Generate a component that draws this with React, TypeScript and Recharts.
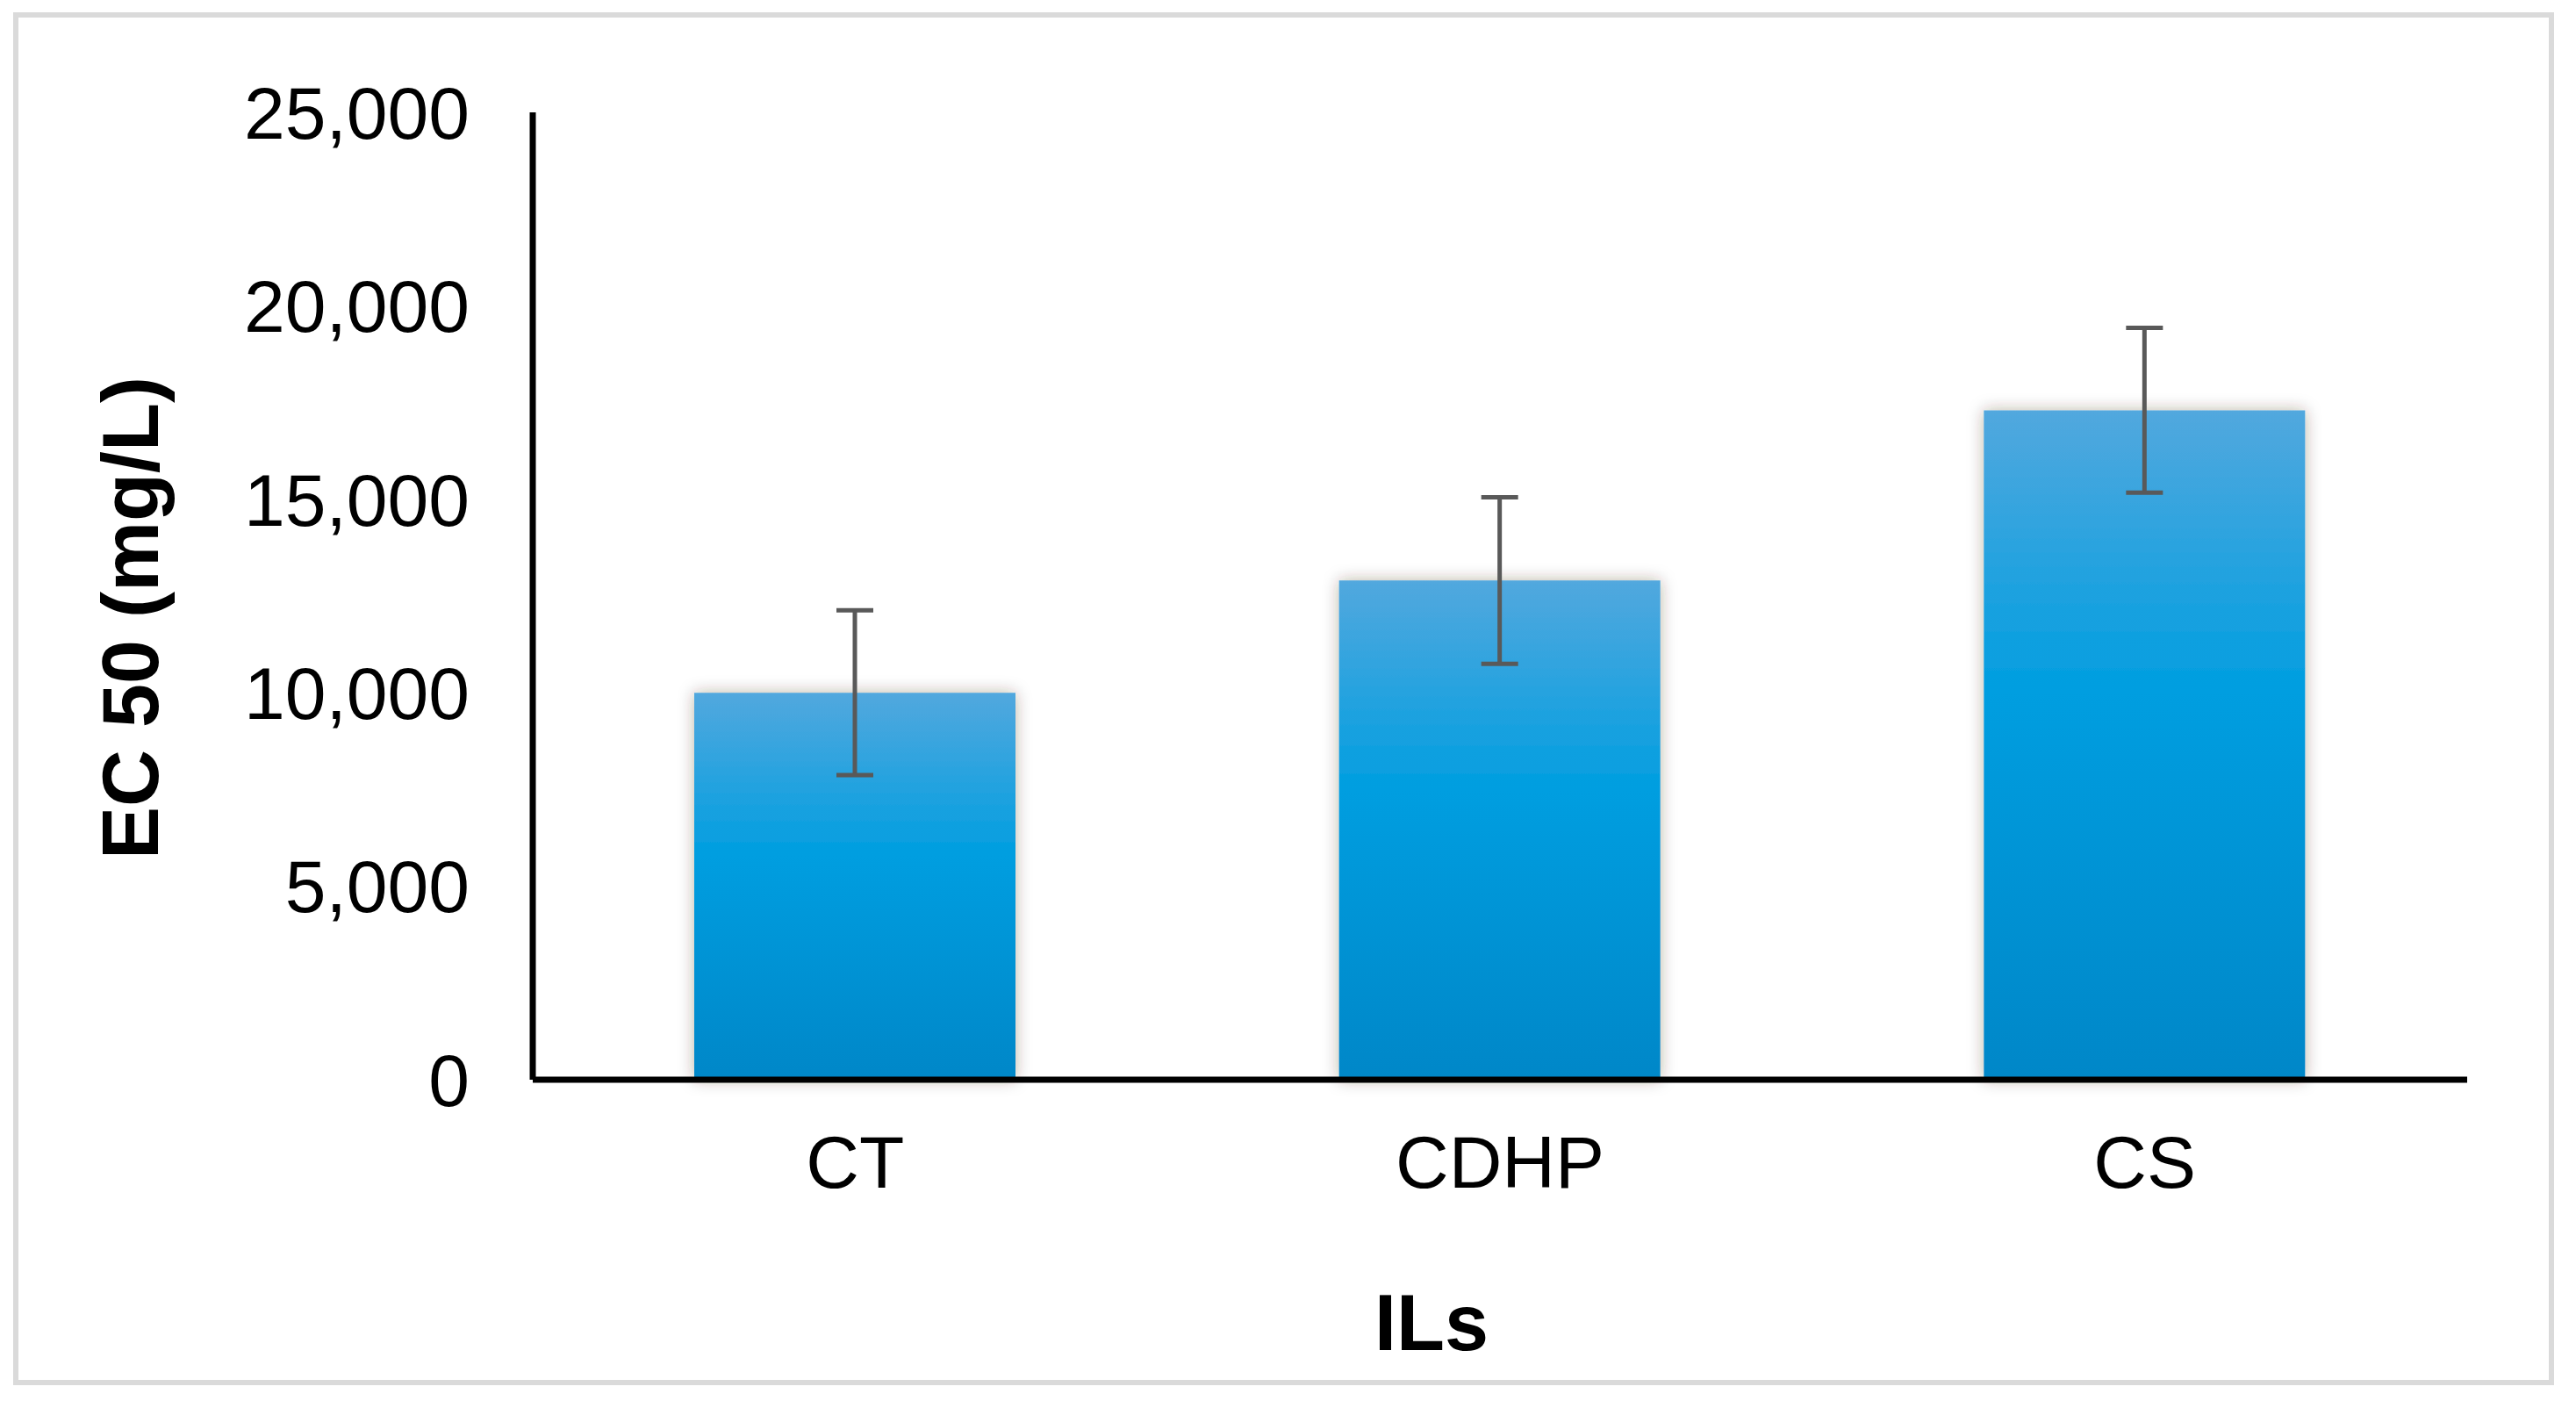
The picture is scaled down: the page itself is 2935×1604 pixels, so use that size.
import React from 'react';
import { BarChart, Bar, XAxis, YAxis, ErrorBar, Label } from 'recharts';

const categories = ['CT', 'CDHP', 'CS'];
const ec50Values = [10000, 12900, 17300];
const ec50Errors = [2130, 2150, 2130];
const yTicks = [0, 5000, 10000, 15000, 20000, 25000];
const yAxisTitle = 'EC 50 (mg/L)';
const xAxisTitle = 'ILs';

const data = categories.map((name, i) => ({ name, value: ec50Values[i], err: ec50Errors[i] }));

const FONT = '"Liberation Sans", Arial, Helvetica, sans-serif';

const fmt = (v: number) => v.toLocaleString('en-US');

export default function App() {
  return (
    <div style={{ position: 'absolute', left: 0, top: 0, width: 2935, height: 1604, background: '#ffffff' }}>
      <div
        style={{
          position: 'absolute',
          left: 15,
          top: 14,
          width: 2895,
          height: 1564,
          border: '6px solid #dadada',
          boxSizing: 'border-box',
        }}
      />
      <div style={{ position: 'absolute', left: 0, top: 0 }}>
        <BarChart
          width={2935}
          height={1604}
          data={data}
          margin={{ top: 128, right: 124, bottom: 44, left: 0 }}
        >
          <defs>
            <linearGradient id="barGrad" x1="0" y1="0" x2="0" y2="1">
              <stop offset="0" stopColor="#52a8de" />
              <stop offset="0.42" stopColor="#009ee0" />
              <stop offset="1" stopColor="#0087c8" />
            </linearGradient>
            <filter id="barShadow" x="-20%" y="-10%" width="140%" height="120%">
              <feDropShadow dx="0" dy="0" stdDeviation="9" floodColor="#3a2a20" floodOpacity="0.35" />
            </filter>
          </defs>
          <XAxis
            dataKey="name"
            height={330}
            axisLine={{ stroke: '#000000', strokeWidth: 7 }}
            tickLine={false}
            tickSize={0}
            tickMargin={63}
            tick={{ fill: '#000000', fontSize: 84, fontFamily: FONT }}
          >
            <Label
              content={(props: any) => {
                const vb = props.viewBox || {};
                const cx = (vb.x ?? 0) + (vb.width ?? 0) / 2 - 78;
                const by = (vb.y ?? 0) + (vb.height ?? 0) - 22;
                return (
                  <text x={cx} y={by} textAnchor="middle" fill="#000" fontSize={90} fontWeight="bold" fontFamily={FONT}>
                    {xAxisTitle}
                  </text>
                );
              }}
            />
          </XAxis>
          <YAxis
            width={607}
            domain={[0, 25000]}
            ticks={yTicks}
            interval={0}
            tickFormatter={fmt}
            axisLine={{ stroke: '#000000', strokeWidth: 7 }}
            tickLine={false}
            tickSize={0}
            tickMargin={72}
            tick={{ fill: '#000000', fontSize: 84, fontFamily: FONT }}
          >
            <Label
              content={(props: any) => {
                const vb = props.viewBox || {};
                const cy = (vb.y ?? 0) + (vb.height ?? 0) / 2 + 25;
                const bx = 180;
                return (
                  <text
                    x={bx}
                    y={cy}
                    transform={`rotate(-90 ${bx} ${cy})`}
                    textAnchor="middle"
                    fill="#000"
                    fontSize={90}
                    fontWeight="bold"
                    fontFamily={FONT}
                  >
                    {yAxisTitle}
                  </text>
                );
              }}
            />
          </YAxis>
          <Bar
            dataKey="value"
            fill="url(#barGrad)"
            barSize={366}
            filter="url(#barShadow)"
            isAnimationActive={false}
          >
            <ErrorBar
              dataKey="err"
              direction="y"
              width={21}
              stroke="#595959"
              strokeWidth={5}
              isAnimationActive={false}
            />
          </Bar>
        </BarChart>
      </div>
    </div>
  );
}
